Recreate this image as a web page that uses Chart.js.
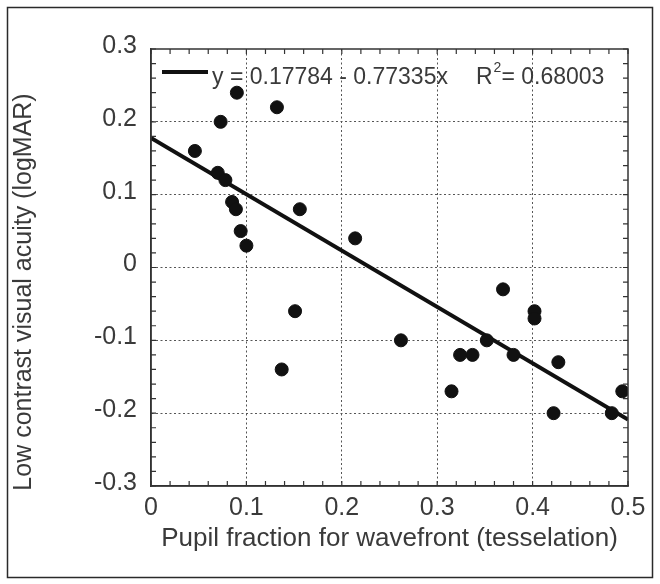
<!DOCTYPE html>
<html>
<head>
<meta charset="utf-8">
<script src="https://cdn.jsdelivr.net/npm/chart.js@4.4.0/dist/chart.umd.min.js"></script>
<style>
  html, body { margin: 0; padding: 0; background: #fff; }
  #wrap { width: 660px; height: 584px; position: relative; }
</style>
</head>
<body>
<div id="wrap"><canvas id="myChart" width="660" height="584"></canvas></div>
<script>
// data
const pupilFraction = [0.046, 0.070, 0.078, 0.073, 0.090, 0.132, 0.085, 0.089, 0.094, 0.100,
  0.156, 0.214, 0.151, 0.137, 0.262, 0.315, 0.324, 0.337, 0.352, 0.369,
  0.380, 0.402, 0.402, 0.422, 0.427, 0.483, 0.494];
const acuity = [0.16, 0.13, 0.12, 0.20, 0.24, 0.22, 0.09, 0.08, 0.05, 0.03,
  0.08, 0.04, -0.06, -0.14, -0.10, -0.17, -0.12, -0.12, -0.10, -0.03,
  -0.12, -0.06, -0.07, -0.20, -0.13, -0.20, -0.17];

// fitted line end points
const fitX = [0, 0.5];
const fitY = [0.17784, -0.20884];

const xTicks = [0, 0.1, 0.2, 0.3, 0.4, 0.5];
const yTicks = [-0.3, -0.2, -0.1, 0, 0.1, 0.2, 0.3];

const xTitle = 'Pupil fraction for wavefront (tesselation)';
const yTitle = 'Low contrast visual acuity (logMAR)';
const legendEq = 'y = 0.17784 - 0.77335x';
const legendR = ['R', '2', '= 0.68003'];

const FONT = "'Liberation Sans', Arial, sans-serif";
const TXT = '#3a3a3a';

const scatterPts = pupilFraction.map((x, i) => ({x: x, y: acuity[i]}));
const fitPts = fitX.map((x, i) => ({x: x, y: fitY[i]}));

const fmt = v => String(Number(v.toFixed(1)));

// frame, inner ticks, box, y title and legend
const decor = {
  id: 'decor',
  beforeDraw(chart) {
    const ctx = chart.ctx;
    ctx.save();
    ctx.fillStyle = '#fff';
    ctx.fillRect(0, 0, chart.width, chart.height);
    ctx.strokeStyle = '#2a2a2a';
    ctx.lineWidth = 1.5;
    ctx.strokeRect(7.5, 7.5, 645, 570);
    // y title (sits a bit below the plot centre in the original)
    ctx.fillStyle = TXT;
    ctx.font = '25px ' + FONT;
    ctx.translate(24, 292);
    ctx.rotate(-Math.PI / 2);
    ctx.textAlign = 'center';
    ctx.textBaseline = 'middle';
    ctx.fillText(yTitle, 0, 0);
    ctx.restore();
  },
  afterDatasetsDraw(chart) {
    const ctx = chart.ctx;
    const a = chart.chartArea;
    const xs = chart.scales.x, ys = chart.scales.y;
    ctx.save();
    ctx.strokeStyle = '#333';
    ctx.lineWidth = 1.5;
    ctx.strokeRect(a.left, a.top, a.right - a.left, a.bottom - a.top);
    ctx.lineWidth = 1.2;
    ctx.beginPath();
    const tl = 5;
    for (let i = 0; i <= 25; i++) {
      const px = xs.getPixelForValue(i * 0.02);
      ctx.moveTo(px, a.bottom); ctx.lineTo(px, a.bottom - tl);
      ctx.moveTo(px, a.top); ctx.lineTo(px, a.top + tl);
    }
    for (let i = 0; i <= 30; i++) {
      const py = ys.getPixelForValue(-0.3 + i * 0.02);
      ctx.moveTo(a.left, py); ctx.lineTo(a.left + tl, py);
      ctx.moveTo(a.right, py); ctx.lineTo(a.right - tl, py);
    }
    ctx.stroke();

    // legend
    ctx.strokeStyle = '#111';
    ctx.lineWidth = 4;
    ctx.beginPath();
    ctx.moveTo(162, 72); ctx.lineTo(208, 72);
    ctx.stroke();
    ctx.fillStyle = TXT;
    ctx.textBaseline = 'alphabetic';
    ctx.font = '23px ' + FONT;
    const base = 84;
    ctx.fillText(legendEq, 212, base);
    let x = 476;
    ctx.fillText(legendR[0], x, base);
    x += ctx.measureText(legendR[0]).width;
    ctx.font = '14px ' + FONT;
    ctx.fillText(legendR[1], x + 1, base - 12);
    x += ctx.measureText(legendR[1]).width + 1;
    ctx.font = '23px ' + FONT;
    ctx.fillText(legendR[2], x, base);
    ctx.restore();
  }
};

const gridColor = ctx => (ctx.tick && (Math.abs(ctx.tick.value) > 0.29 && ctx.scale.axis === 'y' || ctx.scale.axis === 'x' && (ctx.tick.value < 0.01 || ctx.tick.value > 0.49))) ? 'rgba(0,0,0,0)' : '#555';

const config = {
  type: 'scatter',
  data: {
    datasets: [
      {
        label: 'fit',
        type: 'line',
        data: fitPts,
        borderColor: '#111',
        borderWidth: 4,
        pointRadius: 0,
        fill: false,
        order: 2
      },
      {
        label: 'data',
        data: scatterPts,
        backgroundColor: '#111',
        borderColor: '#111',
        pointRadius: 6.5,
        order: 1
      }
    ]
  },
  options: {
    responsive: false,
    animation: false,
    layout: { padding: { left: 8, top: 49, right: 32, bottom: 0 } },
    plugins: { legend: { display: false }, tooltip: { enabled: false } },
    scales: {
      x: {
        type: 'linear',
        min: 0, max: 0.5,
        afterFit: s => { s.height = 98; },
        afterBuildTicks: s => { s.ticks = xTicks.map(v => ({value: v})); },
        ticks: { color: TXT, font: { family: FONT, size: 25 }, padding: 7, callback: v => fmt(v), maxRotation: 0 },
        grid: { drawTicks: false, color: gridColor, lineWidth: 1 },
        border: { color: '#333', width: 1.5, dash: [2, 2.5] },
        title: { display: true, text: xTitle, color: TXT,
          font: { family: FONT, size: 26 }, padding: { top: 0, bottom: 30 } }
      },
      y: {
        type: 'linear',
        min: -0.3, max: 0.3,
        afterFit: s => { s.width = 143; },
        afterBuildTicks: s => { s.ticks = yTicks.map(v => ({value: v})); },
        ticks: { color: TXT, font: { family: FONT, size: 25 }, padding: 14, labelOffset: -3, callback: v => fmt(v) },
        grid: { drawTicks: false, color: gridColor, lineWidth: 1 },
        border: { color: '#333', width: 1.5, dash: [2, 2.5] },
        title: { display: false }
      }
    }
  },
  plugins: [decor]
};

const myChart = new Chart(document.getElementById('myChart'), config);
</script>
</body>
</html>
